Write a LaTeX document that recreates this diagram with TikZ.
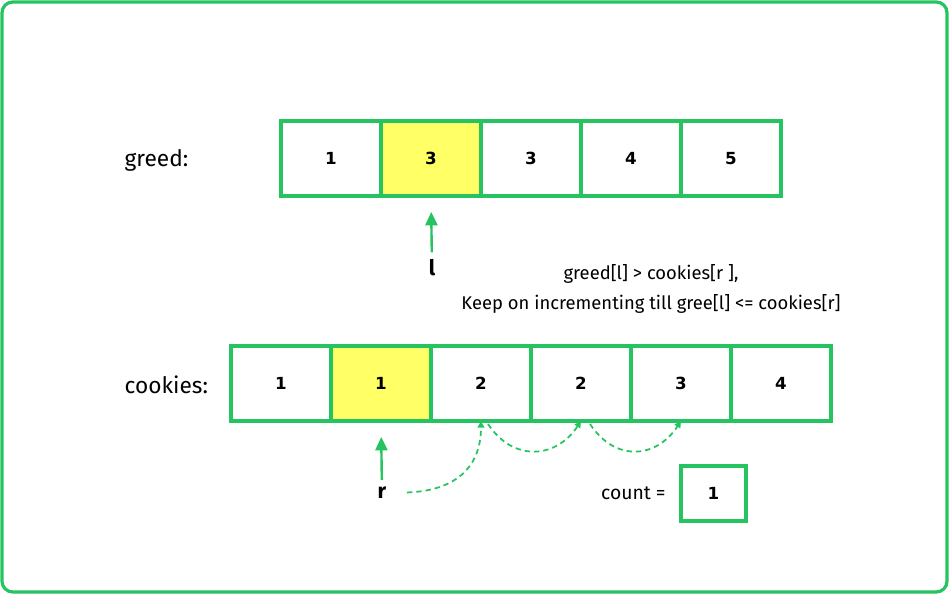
\documentclass[tikz,border=0pt]{standalone}
\usepackage{fontspec}
\setmainfont{Fira Sans}
\newfontfamily\numfont{DejaVu Sans}
\usetikzlibrary{positioning, arrows.meta, calc}
\definecolor{boxgreen}{RGB}{38,196,96}
\definecolor{hiyellow}{RGB}{255,255,102}

\begin{document}
\begin{tikzpicture}[
            x=0.75pt, y=-0.75pt,
            cell/.style = {draw=boxgreen, line width=2.5pt, outer sep=0pt, inner sep=0pt,
                           minimum width=75pt, minimum height=56.25pt,
                           font=\numfont\bfseries\fontsize{12.5}{14}\selectfont},
            hicell/.style = {cell, fill=hiyellow},
            rowlabel/.style = {anchor=west, font=\fontsize{17}{20}\selectfont},
            ptrlabel/.style = {font=\bfseries\fontsize{16}{20}\selectfont},
            pointer/.style = {boxgreen, line width=1.8pt, -{Triangle[length=10pt, width=9pt]}},
            trail/.style = {boxgreen, line width=1.3pt, dash pattern=on 4pt off 3pt,
                            -{Triangle[length=5pt, width=5pt]}}
                        ]
            % frame
            \useasboundingbox (0,0) rectangle (950,595);
            \draw[boxgreen, line width=2.4pt, rounded corners=8pt, fill=white] (2,2) rectangle (947,592);
            % greed row
            \node[rowlabel] (greedlbl) at (120,160) {greed:};
            \foreach \v/\s [count=\i] in {1/cell, 3/hicell, 3/cell, 4/cell, 5/cell}
                \node[\s] (g\i) at (231+100*\i, 158.5) {\v};
            % cookies row
            \node[rowlabel] (cookielbl) at (120,385) {cookies:};
            \foreach \v/\s [count=\i] in {1/cell, 1/hicell, 2/cell, 2/cell, 3/cell, 4/cell}
                \node[\s] (c\i) at (181+100*\i, 383.5) {\v};
            % pointers
            \node[ptrlabel] (lptr) at (432,268) {l};
            \node[ptrlabel] (rptr) at (382,493) {r};
            \draw[pointer, shorten <=2pt, shorten >=12pt] (lptr) -- (g2.south);
            \draw[pointer, shorten <=2pt, shorten >=12pt] (rptr) -- (c2.south);
            % note
            \node[font=\fontsize{13.8}{22}\selectfont, align=center] (note) at (651,289)
                {greed[l] > cookies[r ],\\Keep on incrementing till gree[l] <= cookies[r]};
            % moving r
            \draw[trail, shorten <=12pt] (rptr.east) .. controls +(60,-2) and +(0,50) .. (c3.south);
            \draw[trail] ($(c3.south)+(7,3)$) .. controls +(25,38) and +(-25,38) .. (c4.south);
            \draw[trail] ($(c4.south)+(9,3)$) .. controls +(25,38) and +(-25,38) .. (c5.south);
            % count
            \node[cell, minimum width=48.75pt, minimum height=41.25pt] (cnt) at (713.5,493.5) {1};
            \node[left=8pt of cnt, font=\fontsize{14.5}{16}\selectfont] (cntlbl) {count =};
\end{tikzpicture}
\end{document}
